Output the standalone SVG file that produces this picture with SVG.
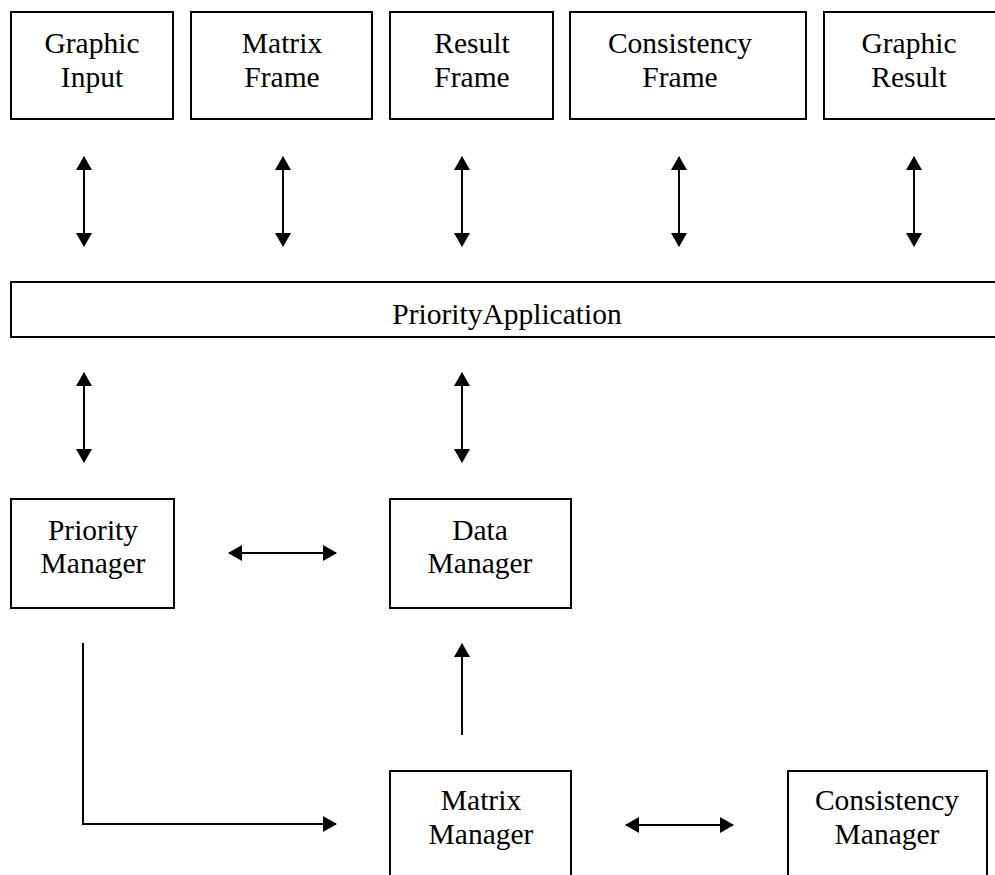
<svg xmlns="http://www.w3.org/2000/svg" width="995" height="875" viewBox="0 0 995 875">
  <style>
    .box { fill: #ffffff; stroke: #000000; stroke-width: 2; }
    .lbl { font-family: "Liberation Serif", "Times New Roman", serif; font-size: 29.5px; fill: #000000; text-anchor: middle; }
    .wire { fill: none; stroke: #000000; stroke-width: 2; }
  </style>
  <defs>
    <marker id="head" markerUnits="userSpaceOnUse" markerWidth="16" markerHeight="16" viewBox="0 0 14 16" refX="13" refY="8" orient="auto-start-reverse">
      <path d="M0,0 L14,8 L0,16 Z" fill="#000000"/>
    </marker>
  </defs>

  <rect width="995" height="875" fill="#ffffff"/>

  <!-- top row of frames -->
  <g id="graphic-input">
    <rect class="box" x="11" y="12" width="162" height="107"/>
    <text class="lbl" x="92" y="53">Graphic</text>
    <text class="lbl" x="92" y="87">Input</text>
  </g>
  <g id="matrix-frame">
    <rect class="box" x="191" y="12" width="181" height="107"/>
    <text class="lbl" x="282" y="53">Matrix</text>
    <text class="lbl" x="282" y="87">Frame</text>
  </g>
  <g id="result-frame">
    <rect class="box" x="390" y="12" width="163" height="107"/>
    <text class="lbl" x="472" y="53">Result</text>
    <text class="lbl" x="472" y="87">Frame</text>
  </g>
  <g id="consistency-frame">
    <rect class="box" x="570" y="12" width="236" height="107"/>
    <text class="lbl" x="680" y="53">Consistency</text>
    <text class="lbl" x="680" y="87">Frame</text>
  </g>
  <g id="graphic-result">
    <rect class="box" x="824" y="12" width="190" height="107"/>
    <text class="lbl" x="909" y="53">Graphic</text>
    <text class="lbl" x="909" y="87">Result</text>
  </g>

  <!-- application bar -->
  <g id="priority-application">
    <rect class="box" x="11" y="282" width="1000" height="55"/>
    <text class="lbl" x="507" y="324">PriorityApplication</text>
  </g>

  <!-- managers -->
  <g id="priority-manager">
    <rect class="box" x="11" y="499" width="163" height="109"/>
    <text class="lbl" x="93" y="540">Priority</text>
    <text class="lbl" x="93" y="573">Manager</text>
  </g>
  <g id="data-manager">
    <rect class="box" x="390" y="499" width="181" height="109"/>
    <text class="lbl" x="480" y="540">Data</text>
    <text class="lbl" x="480" y="573">Manager</text>
  </g>
  <g id="matrix-manager">
    <rect class="box" x="390" y="771" width="181" height="120"/>
    <text class="lbl" x="481" y="810">Matrix</text>
    <text class="lbl" x="481" y="844">Manager</text>
  </g>
  <g id="consistency-manager">
    <rect class="box" x="788" y="771" width="199" height="120"/>
    <text class="lbl" x="887" y="810">Consistency</text>
    <text class="lbl" x="887" y="844">Manager</text>
  </g>

  <!-- connectors -->
  <g id="connectors">
    <line class="wire" x1="84" y1="157" x2="84" y2="246" marker-start="url(#head)" marker-end="url(#head)"/>
    <line class="wire" x1="283" y1="157" x2="283" y2="246" marker-start="url(#head)" marker-end="url(#head)"/>
    <line class="wire" x1="462" y1="157" x2="462" y2="246" marker-start="url(#head)" marker-end="url(#head)"/>
    <line class="wire" x1="679" y1="157" x2="679" y2="246" marker-start="url(#head)" marker-end="url(#head)"/>
    <line class="wire" x1="914" y1="157" x2="914" y2="246" marker-start="url(#head)" marker-end="url(#head)"/>

    <line class="wire" x1="84" y1="373" x2="84" y2="462" marker-start="url(#head)" marker-end="url(#head)"/>
    <line class="wire" x1="462" y1="373" x2="462" y2="462" marker-start="url(#head)" marker-end="url(#head)"/>

    <line class="wire" x1="229" y1="553" x2="336" y2="553" marker-start="url(#head)" marker-end="url(#head)"/>

    <line class="wire" x1="462" y1="735" x2="462" y2="644" marker-end="url(#head)"/>

    <path class="wire" d="M83,643 L83,824 L336,824" marker-end="url(#head)"/>

    <line class="wire" x1="626" y1="825" x2="733" y2="825" marker-start="url(#head)" marker-end="url(#head)"/>
  </g>
</svg>
